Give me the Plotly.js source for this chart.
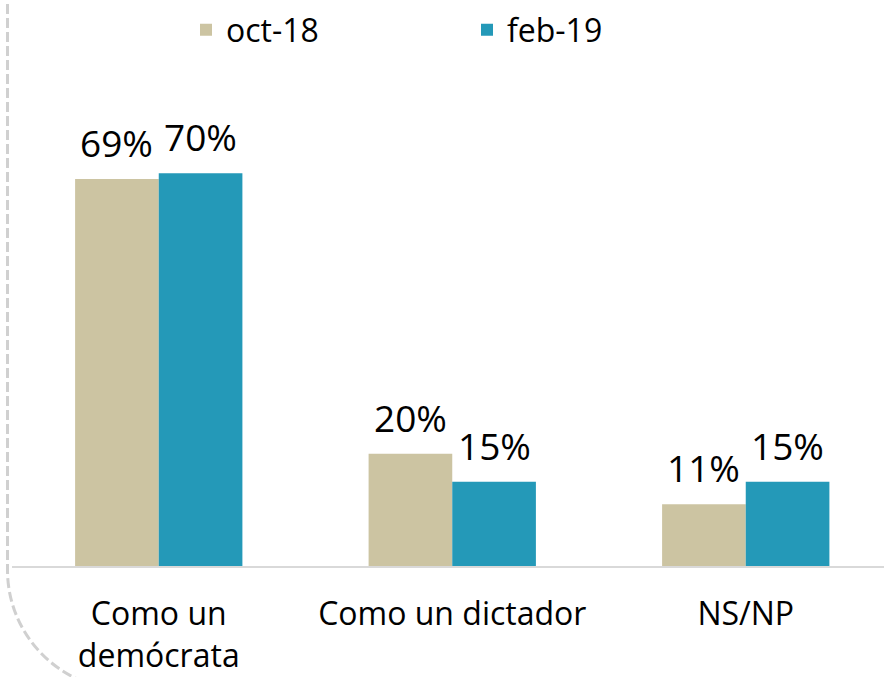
<!DOCTYPE html>
<html>
<head>
<meta charset="utf-8">
<script src="https://cdn.plot.ly/plotly-3.0.1.min.js"></script>
<style>html,body{margin:0;padding:0;background:#fff;}#chart{width:884px;height:677px;}</style>
</head>
<body>
<div id="chart"></div>
<script>
const categories = ["Como un<br>demócrata", "Como un dictador", "NS/NP"];
const seriesNames = ["oct-18", "feb-19"];
const oct18 = [69, 20, 11];
const feb19 = [70, 15, 15];
const seriesValues = [oct18, feb19];
const colors = ["#CCC4A2", "#2499B8"];

const W = 884, H = 677;
const M = {l: 12, r: 0, t: 0, b: 111};
const pw = W - M.l - M.r, ph = H - M.t - M.b;
const px = x => (x - M.l) / pw;
const py = y => (H - M.b - y) / ph;
const catPx = 293.5, barPx = catPx * (1 - 0.43) / 2;

const traces = seriesValues.map((vals, i) => ({
  type: "bar",
  name: seriesNames[i],
  x: categories,
  y: vals,
  marker: {color: colors[i]},
  hoverinfo: "none"
}));

// value labels placed at each bar's data position
const annotations = [];
seriesValues.forEach((vals, i) => {
  vals.forEach((v, j) => {
    annotations.push({
      xref: "x", yref: "y", x: categories[j], y: v,
      text: v + "%", showarrow: false,
      xanchor: "center", yanchor: "bottom",
      xshift: (i === 0 ? -1 : 1) * barPx / 2, yshift: 9,
      font: {family: "Open Sans", size: 37, color: "#000"}
    });
  });
});

// dashed decorative border (left side with rounded bottom corner)
const R = 120, x0 = 7.5, yc = 570, k = 0.5523 * R;
const path = `M ${px(x0)} ${py(-10)} L ${px(x0)} ${py(yc)} C ${px(x0)} ${py(yc + k)} ${px(x0 + R - k)} ${py(yc + R)} ${px(x0 + R)} ${py(yc + R)}`;

const layout = {
  width: W, height: H,
  margin: M,
  paper_bgcolor: "#fff", plot_bgcolor: "#fff",
  barmode: "group",
  bargap: 0.43,
  bargroupgap: 0,
  font: {family: "Open Sans", color: "#000"},
  xaxis: {
    range: [-0.5, -0.5 + pw / catPx],
    showgrid: false, zeroline: false,
    showline: true, linecolor: "#d9d9d9", linewidth: 2,
    ticks: "outside", ticklen: 19, tickcolor: "rgba(0,0,0,0)",
    tickfont: {family: "Open Sans", size: 32, color: "#000"},
    fixedrange: true
  },
  yaxis: {
    range: [0, ph / 5.61],
    visible: false, fixedrange: true
  },
  showlegend: true,
  legend: {
    orientation: "h",
    x: px(186), xanchor: "left",
    y: py(30), yanchor: "middle",
    font: {family: "Open Sans", size: 32, color: "#000"},
    entrywidth: 236, entrywidthmode: "pixels",
    bgcolor: "rgba(0,0,0,0)"
  },
  annotations: annotations,
  shapes: [{
    type: "path", xref: "paper", yref: "paper",
    path: path,
    line: {color: "#d0d0d0", width: 3, dash: "10px,4px"}
  }]
};

Plotly.newPlot("chart", traces, layout, {displayModeBar: false, staticPlot: true});
</script>
</body>
</html>
